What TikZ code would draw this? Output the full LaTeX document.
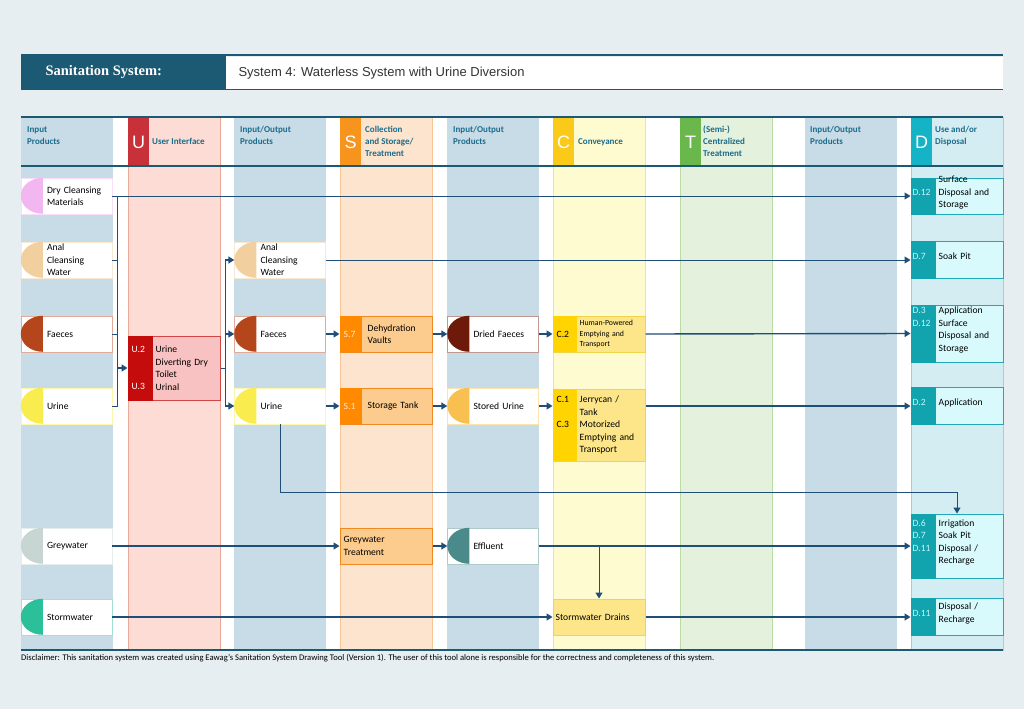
\documentclass[tikz,border=0pt]{standalone}
\usepackage{fontspec}
\setmainfont{Carlito}
\newfontfamily\titleserif{Liberation Serif}
\newfontfamily\titlesans{Liberation Sans}
\usetikzlibrary{arrows.meta}

\definecolor{bgc}{HTML}{E6EEF2}
\definecolor{darkc}{HTML}{1C5A73}
\definecolor{headc}{HTML}{1B6C8C}
\definecolor{arrc}{HTML}{1F4E79}
\definecolor{ioc}{HTML}{C7DCE6}
\definecolor{ucol}{HTML}{FCDCD4}\definecolor{uline}{HTML}{EBA898}\definecolor{uletter}{HTML}{C8313A}
\definecolor{scol}{HTML}{FDE4CE}\definecolor{sline}{HTML}{F6C696}\definecolor{sletter}{HTML}{F7941D}
\definecolor{ccol}{HTML}{FFFBD0}\definecolor{cline}{HTML}{F2E48A}\definecolor{cletter}{HTML}{FBC918}
\definecolor{tcol}{HTML}{E4F1DC}\definecolor{tline}{HTML}{BCDAA6}\definecolor{tletter}{HTML}{6AB84C}
\definecolor{dcol}{HTML}{D4EDF3}\definecolor{dline}{HTML}{9CD2DE}\definecolor{dletter}{HTML}{14B3C6}
% products
\definecolor{pdry}{HTML}{F2B6F0}\definecolor{panal}{HTML}{F1CF9E}\definecolor{pfaeces}{HTML}{B5461C}
\definecolor{purine}{HTML}{F8EC4E}\definecolor{pgrey}{HTML}{C8D6D3}\definecolor{pstorm}{HTML}{2BBF9A}
\definecolor{pdried}{HTML}{6E1A0A}\definecolor{pstored}{HTML}{F8C050}\definecolor{peff}{HTML}{4A8A8A}
% technologies
\definecolor{ubox}{HTML}{F9C2C2}\definecolor{ucode}{HTML}{C40C0C}\definecolor{uborder}{HTML}{D24646}
\definecolor{sbox}{HTML}{FCCB8E}\definecolor{scode}{HTML}{FF8A00}\definecolor{sborder}{HTML}{F08A20}
\definecolor{cbox}{HTML}{FDE68A}\definecolor{ccode}{HTML}{FFD400}\definecolor{cborder}{HTML}{F3D448}
\definecolor{dbox}{HTML}{D8FAFD}\definecolor{dcode}{HTML}{11A4AE}\definecolor{dborder}{HTML}{22A9B8}
\definecolor{dtext}{HTML}{C8F4F8}

\begin{document}
\begin{tikzpicture}[x=1pt,y=1pt]
	\tikzstyle{prod} = [
		rectangle, fill=white, minimum width=91, minimum height=36, inner sep=0
	]
	\tikzstyle{ptext} = [
		anchor=west, text width=66, align=left, inner sep=0,
		font=\fontsize{9.6}{12.5}\selectfont
	]
	\tikzstyle{tech} = [
		rectangle, line width=1, minimum width=92, inner sep=0
	]
	\tikzstyle{code} = [
		anchor=north west, inner sep=0, align=left,
		font=\fontsize{9.6}{12.5}\selectfont
	]
	\tikzstyle{colhead} = [
		anchor=north west, align=left, text=headc, inner sep=0,
		font=\bfseries\fontsize{9}{12}\selectfont
	]
	\tikzstyle{letter} = [
		anchor=center, text=white, inner sep=0, font=\titlesans\fontsize{18}{18}\selectfont
	]
	\tikzstyle{conn} = [
		draw=arrc, line width=1.4, -{Triangle[length=6,width=7]}
	]
	\tikzstyle{thin} = [
		draw=arrc, line width=1
	]

	% background and title
	\fill[bgc] (0,0) rectangle (1024,-709);
	\fill[darkc] (21,-55) rectangle (226,-90);
	\fill[white] (226,-57) rectangle (1003,-89);
	\draw[darkc, line width=2] (21,-55) -- (1003,-55);
	\draw[darkc, line width=0.8] (226,-89.5) -- (1003,-89.5);
	\node (title) [anchor=west, text=white, font=\titleserif\bfseries\fontsize{14.5}{14.5}\selectfont] at (42,-72) {Sanitation System:};
	\node (subtitle) [anchor=west, text=black!80, font=\titlesans\fontsize{13}{13}\selectfont] at (235,-73) {System 4: Waterless System with Urine Diversion};

	% columns
	\fill[white] (21,-117) rectangle (1003,-650);
	\foreach \xa in {21,234,447,805} {
		\fill[ioc] (\xa,-117) rectangle ++(92,-533);
	}
	\foreach \xa/\fc/\lc in {128/ucol/uline,340/scol/sline,553/ccol/cline,680/tcol/tline,911/dcol/dline} {
		\filldraw[fill=\fc, draw=\lc, line width=0.6] (\xa,-117) rectangle ++(92,-533);
	}
	\foreach \xa/\lc/\ch in {128/uletter/U,340/sletter/S,553/cletter/C,680/tletter/T,911/dletter/D} {
		\fill[\lc] (\xa,-118) rectangle ++(21,-47);
		\node [letter] at (\xa+10.5,-142) {\ch};
	}
	\draw[darkc, line width=1.5] (21,-117) -- (1003,-117);
	\draw[darkc, line width=2.5] (21,-166) -- (1003,-166);
	\draw[darkc, line width=2] (21,-650) -- (1003,-650);

	% column headers
	\node (h1) [colhead] at (27,-126) {Input\\Products};
	\node (h2) [colhead] at (152,-138) {User Interface};
	\node (h3) [colhead] at (240,-126) {Input/Output\\Products};
	\node (h4) [colhead] at (365,-126) {Collection\\and Storage/\\Treatment};
	\node (h5) [colhead] at (453,-126) {Input/Output\\Products};
	\node (h6) [colhead] at (578,-138) {Conveyance};
	\node (h7) [colhead] at (703,-126) {(Semi-)\\Centralized\\Treatment};
	\node (h8) [colhead] at (810,-126) {Input/Output\\Products};
	\node (h9) [colhead] at (935,-126) {Use and/or\\Disposal};

	% products
	\foreach \nm/\cx/\cy/\pc/\tx in {
		dry/66.5/196/pdry/{Dry Cleansing\\Materials},
		anal/66.5/260/panal/{Anal\\Cleansing\\Water},
		faeces/66.5/334/pfaeces/Faeces,
		urine/66.5/406/purine/Urine,
		grey/66.5/546/pgrey/Greywater,
		storm/66.5/617/pstorm/Stormwater,
		analb/280/260/panal/{Anal\\Cleansing\\Water},
		faecesb/280/334/pfaeces/Faeces,
		urineb/280/406/purine/Urine,
		dried/493/334/pdried/{Dried Faeces},
		stored/493/406/pstored/{Stored Urine},
		eff/493/546/peff/Effluent} {
		\node (\nm) [prod, draw=\pc!45] at (\cx,-\cy) {};
		\fill[\pc] ([xshift=22]\nm.north west) arc[start angle=90, end angle=270, x radius=22, y radius=18] -- cycle;
		\node (\nm T) [ptext] at ([xshift=26]\nm.west) {\tx};
	}

	% user interface
	\node (u2) [tech, fill=ubox, draw=uborder, minimum height=64] at (174,-368) {};
	\fill[ucode] (u2.north west) rectangle ([xshift=25]u2.south west);
	\node (u2T) [ptext, anchor=west] at ([xshift=28]u2.west) {Urine\\Diverting Dry\\Toilet\\Urinal};
	\node (u2K) [code, text=white] at ([xshift=-24]u2T.north west) {U.2\\\strut\\\strut\\U.3};

	% storage
	\node (s7) [tech, fill=sbox, draw=sborder, minimum height=36] at (386,-334) {};
	\fill[scode] (s7.north west) rectangle ++(22,-36);
	\node (s7K) [code, text=white!80!orange, anchor=west] at ([xshift=4]s7.west) {S.7};
	\node (s7T) [ptext, anchor=west] at ([xshift=28]s7.west) {Dehydration\\Vaults};
	\node (s1) [tech, fill=sbox, draw=sborder, minimum height=36] at (386,-406) {};
	\fill[scode] (s1.north west) rectangle ++(22,-36);
	\node (s1K) [code, text=white!80!orange, anchor=west] at ([xshift=4]s1.west) {S.1};
	\node (s1T) [ptext, anchor=west] at ([xshift=28]s1.west) {Storage Tank};
	\node (gt) [tech, fill=sbox, draw=sborder, minimum height=36] at (386,-546) {};
	\node (gtT) [ptext, anchor=west] at ([xshift=4]gt.west) {Greywater\\Treatment};

	% conveyance
	\node (c2) [tech, fill=cbox, draw=cborder, minimum height=36] at (599,-334) {};
	\fill[ccode] (c2.north west) rectangle ++(24,-36);
	\node (c2K) [code, anchor=west] at ([xshift=4]c2.west) {C.2};
	\node (c2T) [ptext, anchor=west, font=\fontsize{7.8}{10.5}\selectfont] at ([xshift=27]c2.west) {Human-Powered\\Emptying and\\Transport};
	\node (c1) [tech, fill=cbox, draw=cborder, minimum height=72] at (599,-425) {};
	\fill[ccode] (c1.north west) rectangle ++(24,-72);
	\node (c1T) [ptext, anchor=west] at ([xshift=27]c1.west) {Jerrycan /\\Tank\\Motorized\\Emptying and\\Transport};
	\node (c1K) [code] at ([xshift=-23]c1T.north west) {C.1\\\strut\\C.3};
	\node (drains) [tech, fill=cbox, draw=cborder, minimum height=36] at (599,-617) {};
	\node (drainsT) [ptext, anchor=west, text width=90] at ([xshift=3]drains.west) {Stormwater Drains};

	% disposal
	\foreach \nm/\cy/\ht/\ka/\codes/\tx in {
		d12/196/36/west/{D.12}/{Surface\\Disposal and\\Storage},
		d7/260/37/west/{D.7}/{Soak Pit},
		d3/333.5/57/north west/{D.3\\D.12}/{Application\\Surface\\Disposal and\\Storage},
		d2/406/37/west/{D.2}/{Application},
		d6/546/64/north west/{D.6\\D.7\\D.11}/{Irrigation\\Soak Pit\\Disposal /\\Recharge},
		d11/617/37/west/{D.11}/{Disposal /\\Recharge}} {
		\node (\nm) [tech, fill=dbox, draw=dborder, minimum height=\ht] at (957,-\cy) {};
		\fill[dcode] (\nm.north west) rectangle ([xshift=25]\nm.south west);
		\node (\nm T) [ptext, anchor=west] at ([xshift=28]\nm.west) {\tx};
		\node (\nm K) [code, text width=24, anchor=\ka, text=dtext] at ([xshift=-26]\nm T.\ka) {\codes};
	}

	% collectors
	\coordinate (colL) at (117,-196);
	\coordinate (colR) at (225,-260);
	\draw[thin] (dry.east) -- (colL) -- (colL |- urine.east) -- (urine.east);
	\foreach \nm in {anal,faeces} {
		\draw[thin] (\nm.east) -- (\nm.east -| colL);
	}
	\draw[conn] (u2.west -| colL) -- (u2.west);
	\draw[thin] (u2.east) -- (u2.east -| colR);
	\draw[thin] (colR) -- (colR |- urineb.west);
	\foreach \nm in {analb,faecesb,urineb} {
		\draw[conn] (\nm.west -| colR) -- (\nm.west);
	}

	% flows
	\draw[conn, line width=1] (dry.east) -- (d12.west);
	\draw[conn, line width=1] (analb.east) -- (d7.west);
	\draw[conn] (faecesb.east) -- (s7.west);
	\draw[conn] (s7.east) -- (dried.west);
	\draw[conn] (dried.east) -- (c2.west);
	\draw[conn] (c2.east) -- (d3.west);
	\draw[conn] (urineb.east) -- (s1.west);
	\draw[conn] (s1.east) -- (stored.west);
	\draw[conn] (stored.east) -- (c1.west |- stored.east);
	\draw[conn] (c1.east |- stored.east) -- (d2.west);
	\coordinate (bend) at (280,-492);
	\draw[conn, line width=1] (urineb.south) -- (bend) -- (d6.north |- bend) -- (d6.north);
	\draw[conn] (grey.east) -- (gt.west);
	\draw[conn] (gt.east) -- (eff.west);
	\draw[conn] (eff.east) -- (d6.west);
	\draw[conn, line width=1] (drains.north |- eff.east) -- (drains.north);
	\draw[conn] (storm.east) -- (drains.west);
	\draw[conn] (drains.east) -- (d11.west);

	% disclaimer
	\node (note) [anchor=west, inner sep=0, font=\fontsize{8.6}{9}\selectfont] at (21,-658) {Disclaimer: This sanitation system was created using Eawag's Sanitation System Drawing Tool (Version 1). The user of this tool alone is responsible for the correctness and completeness of this system.};
\end{tikzpicture}
\end{document}
